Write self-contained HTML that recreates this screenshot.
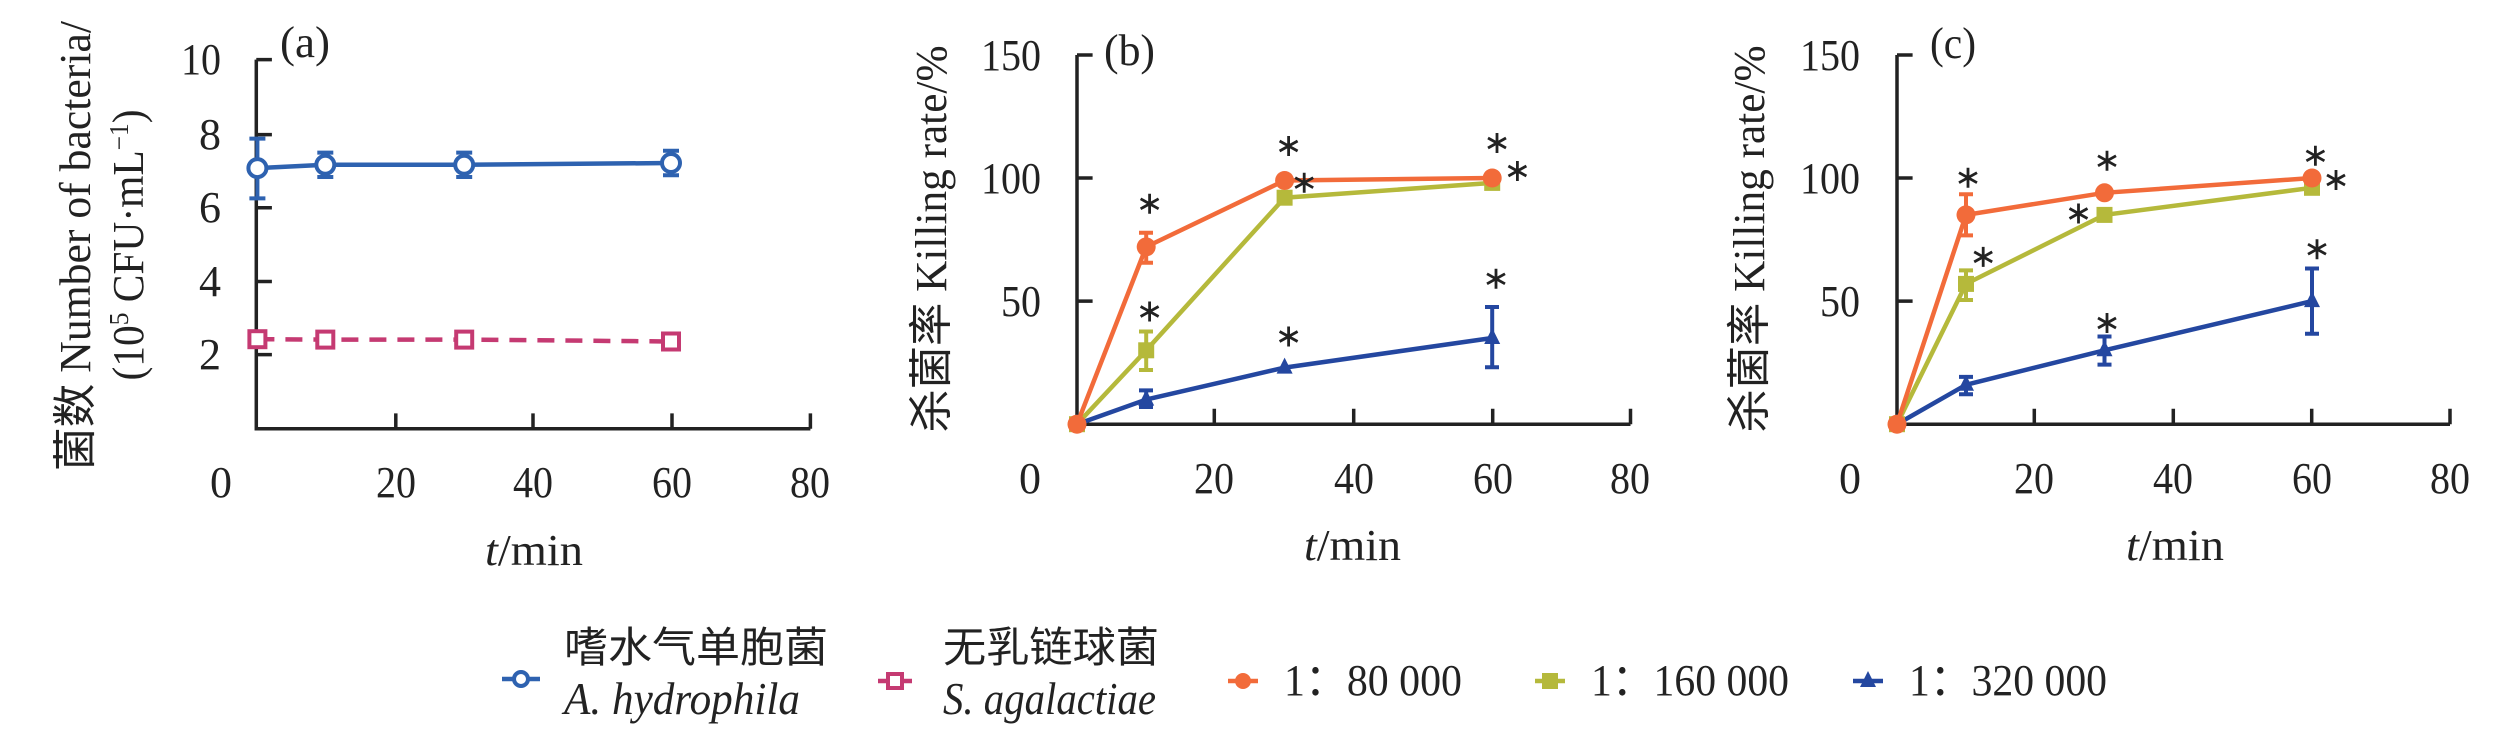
<!DOCTYPE html>
<html><head><meta charset="utf-8"><style>
html,body{margin:0;padding:0;background:#fff;}
svg{display:block;}
text{font-family:"Liberation Serif","Noto Serif CJK SC",serif;fill:#222;}
.cj{font-family:"Liberation Serif","Noto Sans CJK SC",sans-serif;}
</style></head><body>
<svg width="2520" height="742" viewBox="0 0 2520 742" xmlns="http://www.w3.org/2000/svg">
<defs>
<g id="ast"><path d="M0,-10V10M-9,-5L9,5M-9,5L9,-5" stroke="#222" stroke-width="2.8" fill="none"/></g>
</defs>

<!-- ===== Panel a ===== -->
<g stroke="#222" stroke-width="3.5" fill="none">
<path d="M256.3,59.6V428.8H810.4"/>
<path d="M256.3,59.6h15.6M256.3,134.6h15.6M256.3,207.7h15.6M256.3,281.5h15.6M256.3,354.6h15.6"/>
<path d="M395.8,428.8v-15.4M533,428.8v-15.4M672,428.8v-15.4M810.4,428.8v-15.4"/>
</g>
<g font-size="44" text-anchor="end">
<text x="221" y="74" textLength="40" lengthAdjust="spacingAndGlyphs">10</text><text x="221" y="149">8</text><text x="221" y="222">6</text><text x="221" y="296">4</text><text x="221" y="369">2</text>
</g>
<g font-size="44" text-anchor="middle">
<text x="221" y="497">0</text><text x="396" y="497" textLength="40" lengthAdjust="spacingAndGlyphs">20</text><text x="533" y="497" textLength="40" lengthAdjust="spacingAndGlyphs">40</text><text x="672" y="497" textLength="40" lengthAdjust="spacingAndGlyphs">60</text><text x="810" y="497" textLength="40" lengthAdjust="spacingAndGlyphs">80</text>
</g>
<text x="485" y="565" font-size="44" textLength="98" lengthAdjust="spacingAndGlyphs"><tspan font-style="italic">t</tspan>/min</text>
<text x="280" y="57" font-size="44" textLength="50" lengthAdjust="spacingAndGlyphs">(a)</text>
<text class="cj" transform="translate(90,246) rotate(-90)" font-size="44" text-anchor="middle" textLength="450" lengthAdjust="spacingAndGlyphs">菌数 Number of bacteria/</text>
<text transform="translate(143,245) rotate(-90)" font-size="44" text-anchor="middle" textLength="271" lengthAdjust="spacingAndGlyphs">(10<tspan font-size="27" dy="-15">5</tspan><tspan dy="15"> CFU·mL</tspan><tspan font-size="27" dy="-15">−1</tspan><tspan dy="15">)</tspan></text>

<!-- blue series a -->
<g stroke="#2e62b0" stroke-width="4" fill="none">
<polyline points="257.4,168.1 325.3,164.8 464.2,164.8 671,163" stroke-width="4.5"/>
<path d="M257.4,138.6V198.4M249.4,138.6h16M249.4,198.4h16"/>
<path d="M325.3,152.6V177M317.3,152.6h16M317.3,177h16"/>
<path d="M464.2,152.6V177M456.2,152.6h16M456.2,177h16"/>
<path d="M671,150.8V175.2M663,150.8h16M663,175.2h16"/>
<g fill="#fff"><circle cx="257.4" cy="168.1" r="9"/><circle cx="325.3" cy="164.8" r="9"/><circle cx="464.2" cy="164.8" r="9"/><circle cx="671" cy="163" r="9"/></g>
</g>
<!-- pink series a -->
<g stroke="#c53a72" stroke-width="4.5" fill="none">
<polyline points="257.4,339.2 325.3,339.6 464.2,339.6 671,341.5" stroke-dasharray="17 11"/>
<g fill="#fff" stroke-width="4"><rect x="249.4" y="331.2" width="16" height="16"/><rect x="317.3" y="331.6" width="16" height="16"/><rect x="456.2" y="331.6" width="16" height="16"/><rect x="663" y="333.5" width="16" height="16"/></g>
</g>

<!-- ===== Panel b ===== -->
<g stroke="#222" stroke-width="3.5" fill="none">
<path d="M1077,55V424.2H1630.5"/>
<path d="M1077,55h15.6M1077,178h15.6M1077,301.1h15.6"/>
<path d="M1214.3,424.2v-15.4M1353.7,424.2v-15.4M1492.7,424.2v-15.4M1630.5,424.2v-15.4"/>
</g>
<g font-size="44" text-anchor="end">
<text x="1041" y="70" textLength="60" lengthAdjust="spacingAndGlyphs">150</text><text x="1041" y="193" textLength="60" lengthAdjust="spacingAndGlyphs">100</text><text x="1041" y="316" textLength="40" lengthAdjust="spacingAndGlyphs">50</text>
</g>
<g font-size="44" text-anchor="middle">
<text x="1030" y="493">0</text><text x="1214" y="493" textLength="40" lengthAdjust="spacingAndGlyphs">20</text><text x="1354" y="493" textLength="40" lengthAdjust="spacingAndGlyphs">40</text><text x="1493" y="493" textLength="40" lengthAdjust="spacingAndGlyphs">60</text><text x="1630" y="493" textLength="40" lengthAdjust="spacingAndGlyphs">80</text>
</g>
<text x="1304" y="560" font-size="44" textLength="97" lengthAdjust="spacingAndGlyphs"><tspan font-style="italic">t</tspan>/min</text>
<text x="1104" y="65" font-size="44" textLength="51" lengthAdjust="spacingAndGlyphs">(b)</text>
<text class="cj" transform="translate(946,239) rotate(-90)" font-size="44" text-anchor="middle" textLength="387" lengthAdjust="spacingAndGlyphs">杀菌率 Killing rate/%</text>

<g stroke-width="4.5" fill="none">
<polyline points="1077,424.2 1146.2,399.6 1284.6,367.6 1492.2,338" stroke="#2447a0"/>
<polyline points="1077,424.2 1146.2,350.3 1284.6,197.7 1492.2,182.9" stroke="#b5b93b"/>
<polyline points="1077,424.2 1146.2,246.9 1284.6,180.5 1492.2,178" stroke="#f26b3a"/>
</g>
<g stroke-width="4" fill="none">
<path stroke="#2447a0" d="M1146.2,390.4V407M1139,390.4h14M1139,407h14M1492.2,307V367.3M1485,307h14M1485,367.3h14"/>
<path stroke="#b5b93b" d="M1146.2,331.5V370M1139,331.5h14M1139,370h14"/>
<path stroke="#f26b3a" d="M1146.2,232.7V262.7M1139,232.7h14M1139,262.7h14"/>
</g>
<g fill="#2447a0"><path d="M1077,414l8,16h-16z M1146.2,389.6l8,16h-16z M1284.6,357.6l8,16h-16z M1492.2,328l8,16h-16z"/></g>
<g fill="#b5b93b"><rect x="1069" y="416.2" width="16" height="16"/><rect x="1138.2" y="342.3" width="16" height="16"/><rect x="1276.6" y="189.7" width="16" height="16"/><rect x="1484.2" y="174.9" width="16" height="16"/></g>
<g fill="#f26b3a"><circle cx="1077" cy="424.2" r="9.5"/><circle cx="1146.2" cy="246.9" r="9.5"/><circle cx="1284.6" cy="180.5" r="9.5"/><circle cx="1492.2" cy="178" r="9.5"/></g>
<use href="#ast" x="1149.6" y="203.8"/><use href="#ast" x="1149.6" y="311.5"/><use href="#ast" x="1288.6" y="146"/><use href="#ast" x="1304.2" y="182.7"/><use href="#ast" x="1288.6" y="336.5"/><use href="#ast" x="1497" y="143"/><use href="#ast" x="1517.4" y="171"/><use href="#ast" x="1496" y="278.8"/>

<!-- ===== Panel c ===== -->
<g stroke="#222" stroke-width="3.5" fill="none">
<path d="M1897,55V424.2H2450"/>
<path d="M1897,55h15.6M1897,178h15.6M1897,301.1h15.6"/>
<path d="M2034.3,424.2v-15.4M2173.3,424.2v-15.4M2311.7,424.2v-15.4M2450,424.2v-15.4"/>
</g>
<g font-size="44" text-anchor="end">
<text x="1860" y="70" textLength="60" lengthAdjust="spacingAndGlyphs">150</text><text x="1860" y="193" textLength="60" lengthAdjust="spacingAndGlyphs">100</text><text x="1860" y="316" textLength="40" lengthAdjust="spacingAndGlyphs">50</text>
</g>
<g font-size="44" text-anchor="middle">
<text x="1850" y="493">0</text><text x="2034" y="493" textLength="40" lengthAdjust="spacingAndGlyphs">20</text><text x="2173" y="493" textLength="40" lengthAdjust="spacingAndGlyphs">40</text><text x="2312" y="493" textLength="40" lengthAdjust="spacingAndGlyphs">60</text><text x="2450" y="493" textLength="40" lengthAdjust="spacingAndGlyphs">80</text>
</g>
<text x="2126" y="560" font-size="44" textLength="98" lengthAdjust="spacingAndGlyphs"><tspan font-style="italic">t</tspan>/min</text>
<text x="1930" y="58" font-size="44" textLength="46" lengthAdjust="spacingAndGlyphs">(c)</text>
<text class="cj" transform="translate(1764,239) rotate(-90)" font-size="44" text-anchor="middle" textLength="387" lengthAdjust="spacingAndGlyphs">杀菌率 Killing rate/%</text>

<g stroke-width="4.5" fill="none">
<polyline points="1897,424.2 1966,384.8 2104.5,350.3 2312,301.1" stroke="#2447a0"/>
<polyline points="1897,424.2 1966,283.9 2104.5,214.9 2312,187.8" stroke="#b5b93b"/>
<polyline points="1897,424.2 1966,214.9 2104.5,192.8 2312,178" stroke="#f26b3a"/>
</g>
<g stroke-width="4" fill="none">
<path stroke="#2447a0" d="M1966,376.9V394.2M1959,376.9h14M1959,394.2h14M2104.5,336.5V364.6M2097.5,336.5h14M2097.5,364.6h14M2312,268.5V333.8M2305,268.5h14M2305,333.8h14"/>
<path stroke="#b5b93b" d="M1966,270.4V300M1959,270.4h14M1959,300h14"/>
<path stroke="#f26b3a" d="M1966,194.2V235.4M1959,194.2h14M1959,235.4h14"/>
</g>
<g fill="#2447a0"><path d="M1897,414l8,16h-16z M1966,374.8l8,16h-16z M2104.5,340.3l8,16h-16z M2312,291.1l8,16h-16z"/></g>
<g fill="#b5b93b"><rect x="1889" y="416.2" width="16" height="16"/><rect x="1958" y="275.9" width="16" height="16"/><rect x="2096.5" y="206.9" width="16" height="16"/><rect x="2304" y="179.8" width="16" height="16"/></g>
<g fill="#f26b3a"><circle cx="1897" cy="424.2" r="9.5"/><circle cx="1966" cy="214.9" r="9.5"/><circle cx="2104.5" cy="192.8" r="9.5"/><circle cx="2312" cy="178" r="9.5"/></g>
<use href="#ast" x="1968" y="177.7"/><use href="#ast" x="1983.2" y="256.9"/><use href="#ast" x="2107" y="160.8"/><use href="#ast" x="2078.5" y="213.5"/><use href="#ast" x="2107" y="323"/><use href="#ast" x="2315.4" y="155.8"/><use href="#ast" x="2336" y="180"/><use href="#ast" x="2317" y="249.2"/>

<!-- ===== Legend ===== -->
<g stroke-width="4.5" fill="none">
<path d="M502,679h38" stroke="#2e62b0"/><circle cx="521" cy="679" r="7" stroke="#2e62b0" stroke-width="4" fill="#fff"/>
<path d="M878,681h34" stroke="#c53a72"/><rect x="888" y="674" width="14" height="14" stroke="#c53a72" stroke-width="4" fill="#fff"/>
<path d="M1228,681h30" stroke="#f26b3a"/><circle cx="1243" cy="681" r="8" fill="#f26b3a" stroke="none"/>
<path d="M1535,681h30" stroke="#b5b93b"/><rect x="1542" y="673" width="16" height="16" fill="#b5b93b" stroke="none"/>
<path d="M1853,681h30" stroke="#2447a0"/><path d="M1868,671l8,16h-16z" fill="#2447a0" stroke="none"/>
</g>
<text class="cj" x="564" y="662" font-size="42" textLength="264" lengthAdjust="spacingAndGlyphs">嗜水气单胞菌</text>
<text x="564" y="714" font-size="46" font-style="italic" textLength="236" lengthAdjust="spacingAndGlyphs">A. hydrophila</text>
<text class="cj" x="943" y="662" font-size="42" textLength="216" lengthAdjust="spacingAndGlyphs">无乳链球菌</text>
<text x="943" y="714" font-size="46" font-style="italic" textLength="213" lengthAdjust="spacingAndGlyphs">S. agalactiae</text>
<text class="cj" x="1284" y="695" font-size="44" textLength="178" lengthAdjust="spacingAndGlyphs">1：80 000</text>
<text class="cj" x="1591" y="695" font-size="44" textLength="198" lengthAdjust="spacingAndGlyphs">1：160 000</text>
<text class="cj" x="1909" y="695" font-size="44" textLength="198" lengthAdjust="spacingAndGlyphs">1：320 000</text>
</svg>
</body></html>
